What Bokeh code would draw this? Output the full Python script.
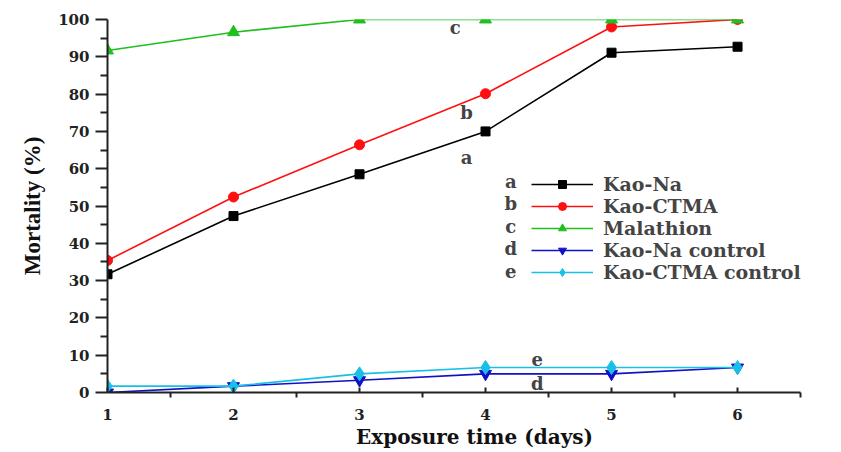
from bokeh.plotting import figure
from bokeh.models import Legend, LegendItem, Range1d, FixedTicker, Label
from bokeh.embed import file_html
from bokeh.resources import INLINE

days = [1, 2, 3, 4, 5, 6]
kao_na = [31.7, 47.3, 58.5, 70.0, 91.1, 92.7]
kao_ctma = [35.4, 52.4, 66.4, 80.1, 98.0, 100.0]
malathion = [91.7, 96.6, 100.0, 100.0, 100.0, 100.0]
kao_na_control = [0.0, 1.7, 3.3, 5.0, 5.0, 6.7]
kao_ctma_control = [1.7, 1.7, 5.0, 6.7, 6.7, 6.7]

series_names = ["Kao-Na", "Kao-CTMA", "Malathion", "Kao-Na control", "Kao-CTMA control"]
series_letters = ["a", "b", "c", "d", "e"]
x_ticks = [1, 2, 3, 4, 5, 6]
y_ticks = [0, 10, 20, 30, 40, 50, 60, 70, 80, 90, 100]

SERIF = "DejaVu Serif"

p = figure(width=841, height=452, output_backend="svg", toolbar_location=None,
           x_range=Range1d(1, 6.825), y_range=Range1d(0, 100),
           min_border_left=107, min_border_right=0, min_border_top=19, min_border_bottom=60)
p.outline_line_color = None
p.xgrid.visible = False
p.ygrid.visible = False
p.background_fill_color = "white"

colors = ["#000000", "#ff1010", "#1fbf1f", "#1010c8", "#18c0e8"]
data = [kao_na, kao_ctma, malathion, kao_na_control, kao_ctma_control]
markers = ["square", "circle", "triangle", "inverted_triangle", "diamond"]
sizes = [9, 10, 12, 12, 14]

items = []
for name, ys, c, m, s in zip(series_names, data, colors, markers, sizes):
    r1 = p.line(days, ys, line_color=c, line_width=1.6)
    r2 = p.scatter(days, ys, marker=m, size=s, fill_color=c, line_color=c)
    items.append(LegendItem(label=name, renderers=[r1, r2]))

legend = Legend(items=items, location=(424, 109), orientation="vertical",
                glyph_width=62, glyph_height=20, label_height=20, spacing=0,
                padding=0, margin=0, label_standoff=10,
                label_text_font=SERIF, label_text_font_style="bold",
                label_text_font_size="19px", border_line_color=None,
                background_fill_alpha=0)
p.add_layout(legend, "center")

# legend letters
leg_x = [4.2] * 5
leg_y = [56.6, 50.6, 44.6, 38.6, 32.6]
for lt, lx, ly in zip(series_letters, leg_x, leg_y):
    p.add_layout(Label(x=lx, y=ly, text=lt, text_font=SERIF, text_font_style="bold",
                       text_font_size="18px", text_align="center", text_baseline="middle"))

# curve letters
cl_x = [3.85, 3.85, 3.76, 4.41, 4.41]
cl_y = [63.0, 75.0, 97.9, 2.4, 9.0]
for lt, lx, ly in zip(series_letters, cl_x, cl_y):
    p.add_layout(Label(x=lx, y=ly, text=lt, text_font=SERIF, text_font_style="bold",
                       text_font_size="18px", text_align="center", text_baseline="middle"))

for ax in (p.xaxis[0], p.yaxis[0]):
    ax.axis_line_width = 2
    ax.axis_line_color = "#222222"
    ax.major_tick_line_width = 2
    ax.minor_tick_line_width = 2
    ax.major_tick_line_color = "#222222"
    ax.minor_tick_line_color = "#222222"
    ax.major_label_text_font = SERIF
    ax.major_label_text_font_style = "bold"
    ax.major_label_text_font_size = "15px"
    ax.major_label_text_color = "#222222"
    ax.axis_label_text_font = SERIF
    ax.axis_label_text_font_style = "bold"
    ax.axis_label_text_color = "#111111"

p.xaxis.bounds = (1, 6.5)
p.xaxis.ticker = FixedTicker(ticks=x_ticks, minor_ticks=[1.5, 2.5, 3.5, 4.5, 5.5, 6.5])
p.yaxis.ticker = FixedTicker(ticks=y_ticks, minor_ticks=[5, 15, 25, 35, 45, 55, 65, 75, 85, 95])
p.xaxis.major_tick_in = 5
p.xaxis.major_tick_out = 0
p.xaxis.minor_tick_in = 0
p.xaxis.minor_tick_out = 5
p.yaxis.major_tick_in = 0
p.yaxis.major_tick_out = 12
p.yaxis.minor_tick_in = 0
p.yaxis.minor_tick_out = 7
p.xaxis.major_label_standoff = 11
p.yaxis.major_label_standoff = 6

p.xaxis.axis_label = "Exposure time (days)"
p.xaxis.axis_label_text_font_size = "20px"
p.xaxis.axis_label_standoff = 2
p.yaxis.axis_label = "Mortality (%)"
p.yaxis.axis_label_text_font = "Liberation Serif"
p.yaxis.axis_label_text_font_size = "23px"
p.yaxis.axis_label_standoff = 10

open("out.html", "w").write(file_html(p, INLINE))
